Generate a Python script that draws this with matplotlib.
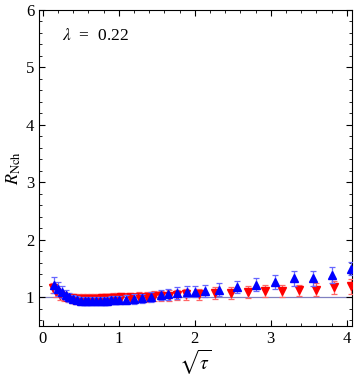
import numpy as np
import matplotlib
matplotlib.use('Agg')
import matplotlib.pyplot as plt
from matplotlib.ticker import MultipleLocator

plt.rcParams['font.family'] = ['Liberation Serif', 'DejaVu Serif']
plt.rcParams['mathtext.fontset'] = 'stix'

# blue (up triangles)
blue_x = [0.15, 0.20, 0.25, 0.30, 0.35, 0.40, 0.45, 0.50, 0.55, 0.60, 0.65, 0.70,
          0.75, 0.80, 0.85, 0.90, 0.95, 1.00,
          1.10, 1.20, 1.31, 1.43, 1.55, 1.65, 1.77, 1.90,
          2.00, 2.14, 2.32, 2.56, 2.80, 3.05, 3.30, 3.55, 3.81, 4.06]
blue_y = [1.22, 1.15, 1.09, 1.04, 1.00, 0.97, 0.95, 0.94, 0.93, 0.93, 0.93, 0.93,
          0.94, 0.94, 0.94, 0.95, 0.95, 0.96,
          0.96, 0.97, 0.98, 1.01, 1.04, 1.05, 1.07, 1.10,
          1.10, 1.11, 1.13, 1.18, 1.22, 1.27, 1.33, 1.33, 1.38, 1.50]
blue_err = [0.14, 0.12, 0.10, 0.09, 0.08, 0.07, 0.07, 0.07, 0.07, 0.07, 0.07, 0.07,
            0.07, 0.07, 0.07, 0.07, 0.07, 0.07,
            0.08, 0.08, 0.08, 0.09, 0.09, 0.09, 0.10, 0.10,
            0.10, 0.11, 0.11, 0.11, 0.11, 0.12, 0.13, 0.13, 0.14, 0.11]

# red (down triangles)
red_x = [0.13, 0.18, 0.23, 0.28, 0.33, 0.38, 0.43, 0.48, 0.53, 0.58, 0.63, 0.68,
         0.73, 0.78, 0.83, 0.88, 0.93, 0.98, 1.03,
         1.15, 1.27, 1.37, 1.47, 1.56, 1.66, 1.77, 1.88,
         2.05, 2.27, 2.48, 2.70, 2.92, 3.15, 3.37, 3.60, 3.83, 4.06]
red_y = [1.16, 1.09, 1.04, 1.01, 0.99, 0.98, 0.97, 0.97, 0.97, 0.97, 0.97, 0.97,
         0.97, 0.98, 0.98, 0.98, 0.99, 0.99, 1.00,
         1.00, 1.01, 1.01, 1.02, 1.02, 1.03, 1.04, 1.05,
         1.05, 1.07, 1.07, 1.09, 1.11, 1.11, 1.12, 1.13, 1.17, 1.19]
red_err = [0.09, 0.08, 0.08, 0.08, 0.08, 0.08, 0.08, 0.08, 0.08, 0.08, 0.08, 0.08,
           0.08, 0.08, 0.08, 0.08, 0.08, 0.08, 0.08,
           0.08, 0.08, 0.09, 0.09, 0.09, 0.09, 0.09, 0.09,
           0.09, 0.10, 0.10, 0.10, 0.10, 0.10, 0.10, 0.11, 0.12, 0.13]

fig = plt.figure(figsize=(3.56, 3.81), dpi=100)
ax = fig.add_axes([0.1096, 0.1444, 0.8792, 0.8294])

ax.axhline(1.0, color='#8080c0', lw=0.9, zorder=1)

ax.errorbar(red_x, red_y, yerr=red_err, fmt='v', color='red', ms=5.5,
            ecolor=(1, 0.4, 0.4), elinewidth=0.9, capsize=2.5, capthick=0.9, zorder=3)
ax.errorbar(blue_x, blue_y, yerr=blue_err, fmt='^', color='blue', ms=5.5,
            ecolor=(0.4, 0.4, 1), elinewidth=0.9, capsize=2.5, capthick=0.9, zorder=4)

ax.set_xlim(-0.05, 4.07)
ax.set_ylim(0.5, 6)
ax.xaxis.set_major_locator(MultipleLocator(1))
ax.xaxis.set_minor_locator(MultipleLocator(0.2))
ax.yaxis.set_major_locator(MultipleLocator(1))
ax.yaxis.set_minor_locator(MultipleLocator(0.2))
ax.tick_params(which='both', direction='in', top=True, right=True, labelsize=12)
ax.tick_params(which='major', length=4.5, width=0.8)
ax.tick_params(which='minor', length=2.5, width=0.6)

ax.text(0.25, 5.55, r'$\lambda$  =  0.22', fontsize=12.5, va='center')
ax.set_xlabel(r'$\sqrt{\tau}$', fontsize=14, labelpad=1)
ax.set_ylabel(r'$R_{\mathrm{Nch}}$', fontsize=13, labelpad=2)

fig.savefig('out.png', dpi=100)
